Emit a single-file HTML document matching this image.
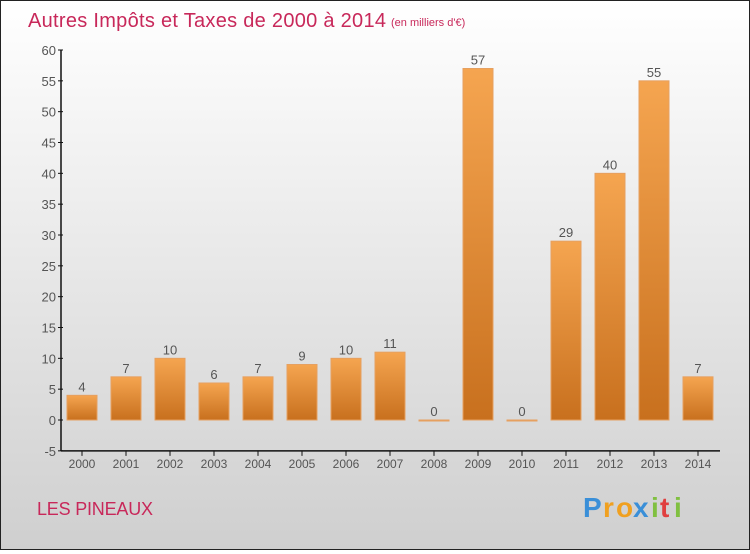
<!DOCTYPE html>
<html><head><meta charset="utf-8"><style>
html,body{margin:0;padding:0}
body{width:750px;height:550px;overflow:hidden;font-family:"Liberation Sans",sans-serif}
#wrap{position:relative;width:748px;height:548px;border:1px solid #222;background:linear-gradient(#ffffff,#cfcfcf)}
</style></head><body>
<div id="wrap">
<svg id="chart" width="748" height="548">
<text x="27" y="26" font-size="20" fill="#c8285a" textLength="358" font-family="Liberation Sans, sans-serif">Autres Impôts et Taxes de 2000 à 2014</text>
<text x="390" y="25" font-size="11" fill="#c8285a">(en milliers d'€)</text>
<text x="36" y="514" font-size="18" fill="#c8285a" textLength="116">LES PINEAUX</text>
<g font-size="28" font-weight="bold" font-family="Liberation Sans, sans-serif">
<text x="582" y="516" fill="#3a8fd8">P</text><text x="602" y="516" fill="#f0a020">r</text><text x="615" y="516" fill="#f0a020">o</text><text x="632" y="516" fill="#3a8fd8">x</text><text x="650" y="516" fill="#80c040">i</text><text x="659" y="516" fill="#e04040">t</text><text x="673" y="516" fill="#80c040">i</text>
</g>
<defs><linearGradient id="bg" x1="0" y1="0" x2="0" y2="1"><stop offset="0" stop-color="#f5a550"/><stop offset="1" stop-color="#c8701e"/></linearGradient></defs>
<g id="g"></g>
</svg>
</div>
<script>
const categories=["2000","2001","2002","2003","2004","2005","2006","2007","2008","2009","2010","2011","2012","2013","2014"];
const values=[4,7,10,6,7,9,10,11,0,57,0,29,40,55,7];
const yTicks=[-5,0,5,10,15,20,25,30,35,40,45,50,55,60];
const NS="http://www.w3.org/2000/svg";
const g=document.getElementById("g");
const y=v=>419-(v)*(370/60);
const x=i=>81+i*44;
function mk(t,a){const e=document.createElementNS(NS,t);for(const k in a)e.setAttribute(k,a[k]);g.appendChild(e);return e;}
let ax=mk("line",{x1:60,y1:y(-5),x2:60,y2:y(60),stroke:"#111","stroke-width":1.5});


let bx=mk("line",{x1:60,y1:y(-5),x2:719,y2:y(-5),stroke:"#111","stroke-width":1.5});


yTicks.forEach(t=>{
 mk("line",{x1:57,y1:y(t),x2:62,y2:y(t),stroke:"#111"});
 const l=mk("text",{x:55,y:y(t)+5,"text-anchor":"end","font-size":13,fill:"#555"});l.textContent=t;
 
 
});
categories.forEach((c,i)=>{
 mk("line",{x1:x(i),y1:y(-5),x2:x(i),y2:y(-5)+5,stroke:"#111"});
 const l=mk("text",{x:x(i),y:y(-5)+17,"text-anchor":"middle","font-size":12,fill:"#555"});l.textContent=c;
 
 
 const v=values[i];
 const top=y(v),h=Math.max(y(0)-top,1);
 const b=mk("rect",{x:x(i)-15,y:top,width:30,height:h,fill:v>0?"url(#bg)":"#c8701e",stroke:"#e6a060","stroke-width":1});
 
 
 const vl=mk("text",{x:x(i),y:top-4,"text-anchor":"middle","font-size":13,fill:"#555"});vl.textContent=v;
 
 
});
</script>
</body></html>
